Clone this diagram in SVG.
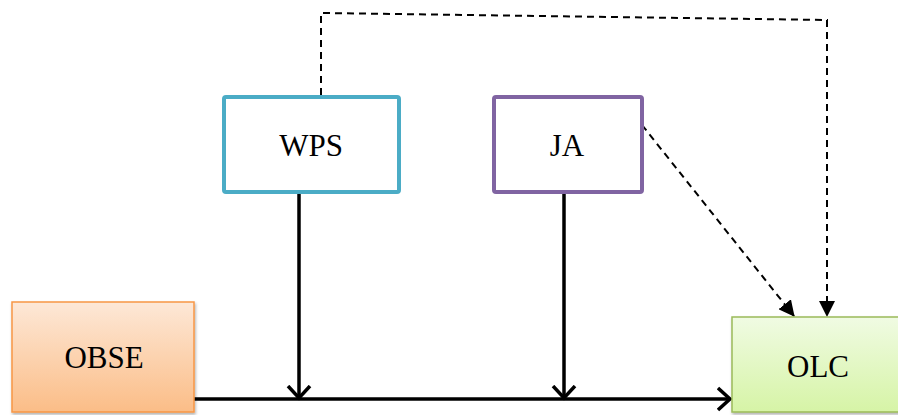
<svg xmlns="http://www.w3.org/2000/svg" width="898" height="415" viewBox="0 0 898 415">
<style>
.lbl{font-family:"Liberation Serif","Times New Roman",serif;font-size:31px;fill:#000;text-anchor:middle;dominant-baseline:central}
.solid{stroke:#000;stroke-width:3.5;fill:none}
.dash{stroke:#000;stroke-width:2;fill:none;stroke-dasharray:7 5}
</style>
<defs>
<linearGradient id="gO" x1="0" y1="0" x2="0" y2="1"><stop offset="0" stop-color="#fde8d7"/><stop offset="1" stop-color="#fbbd87"/></linearGradient>
<linearGradient id="gG" x1="0" y1="0" x2="0" y2="1"><stop offset="0" stop-color="#f0fbe3"/><stop offset="1" stop-color="#d6f4a6"/></linearGradient>
<marker id="open" viewBox="0 0 26 26" refX="13" refY="13" markerWidth="26" markerHeight="26" markerUnits="userSpaceOnUse" orient="auto"><path d="M1,2 L13,13 L1,24" fill="none" stroke="#000" stroke-width="3.5"/></marker>
<marker id="tri" viewBox="0 0 16 16" refX="15" refY="8" markerWidth="16" markerHeight="16" markerUnits="userSpaceOnUse" orient="auto"><path d="M0,0 L16,8 L0,16 Z" fill="#000"/></marker>
<filter id="sh" x="-5%" y="-5%" width="115%" height="120%"><feDropShadow dx="1" dy="2" stdDeviation="1.5" flood-color="#000" flood-opacity="0.3"/></filter>
</defs>
<g id="connectors">
<path class="solid" d="M194,399 L730,399" marker-end="url(#open)"/>
<path class="solid" d="M299,193 L299,398" marker-end="url(#open)"/>
<path class="solid" d="M564,193 L564,398" marker-end="url(#open)"/>
<path class="dash" d="M321,95 L321,13 L827,20 L827,316" marker-end="url(#tri)"/>
<path class="dash" d="M642,125 L794,316" marker-end="url(#tri)"/>
</g>
<g id="OBSE">
<rect x="12" y="302" width="182" height="110" fill="url(#gO)" stroke="#f79646" stroke-width="1.5" filter="url(#sh)"/>
<text class="lbl" x="104" y="357">OBSE</text>
</g>
<g id="OLC">
<rect x="732" y="317" width="170" height="95" fill="url(#gG)" stroke="#9bbb59" stroke-width="1.5" filter="url(#sh)"/>
<text class="lbl" x="818" y="366">OLC</text>
</g>
<g id="WPS">
<rect x="224" y="97" width="175" height="95" rx="2" fill="#fff" stroke="#4bacc6" stroke-width="4"/>
<text class="lbl" x="311" y="145">WPS</text>
</g>
<g id="JA">
<rect x="494" y="97" width="148" height="95" rx="2" fill="#fff" stroke="#8064a2" stroke-width="4"/>
<text class="lbl" x="567" y="145">JA</text>
</g>
</svg>
